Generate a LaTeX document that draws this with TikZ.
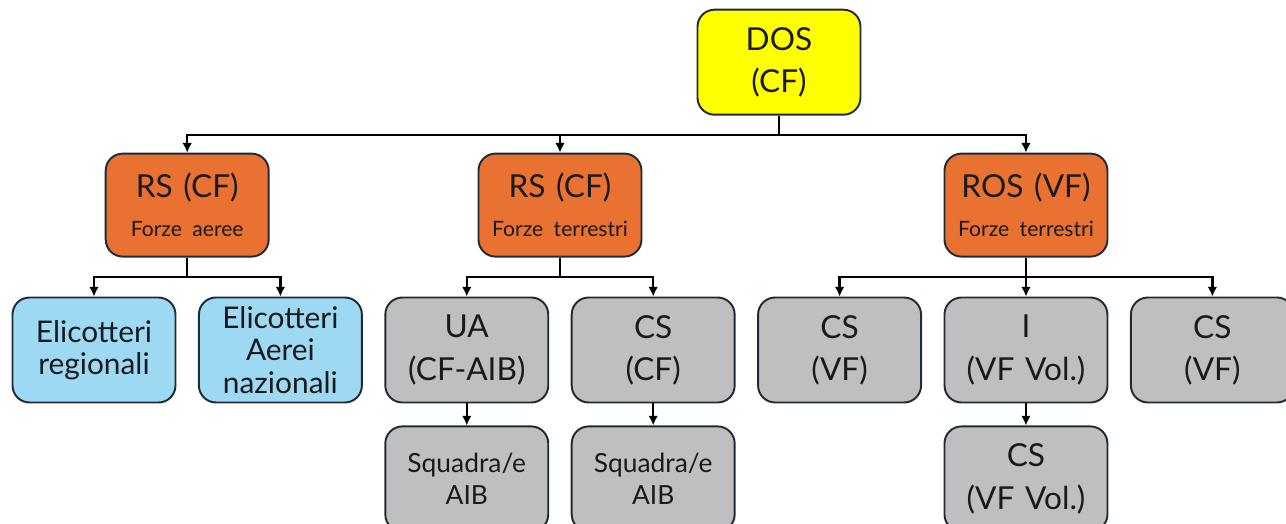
\documentclass[tikz,border=0pt]{standalone}
\usepackage{fontspec}
\setmainfont{Lato}[WordSpace=0.55]
\usepackage{xcolor}
\usepackage{tikz}
\usetikzlibrary{arrows,arrows.meta,positioning,calc}
\definecolor{giallo}{HTML}{FFFF00}
\definecolor{arancio}{HTML}{E97132}
\definecolor{azzurro}{HTML}{9DD9F3}
\definecolor{grigio}{HTML}{BFBFBF}
\definecolor{bordo}{HTML}{1E2B37}
\definecolor{testo}{HTML}{1A1A1A}

\begin{document}
\begin{tikzpicture}[
  x=0.02cm, y=0.02cm,
  box/.style={draw=bordo, line width=1.1pt, rounded corners=3.4mm, align=center, text width=3cm, inner sep=1.3mm, minimum height=2.1cm, text=testo},
  dos/.style={box, fill=giallo, font=\fontsize{18}{24}\selectfont},
  capo/.style={box, fill=arancio, minimum height=2.06cm, font=\fontsize{18}{22}\selectfont},
  eli/.style={box, fill=azzurro, font=\fontsize{17}{18.5}\selectfont},
  unita/.style={box, fill=grigio, font=\fontsize{18}{24}\selectfont},
  squadra/.style={box, fill=grigio, font=\fontsize{15}{18}\selectfont},
  link/.style={-{Latex[length=5.5pt,width=5.5pt]}, line width=1.4pt, draw=black},
  node distance=7.8mm and 4.3mm
]
\useasboundingbox (0,0) rectangle (1286,524);
\clip (0,0) rectangle (1286,524);
\node[eli] (elireg) at (94,174) {Elicotteri\\regionali};
\node[eli, right=of elireg] (elinaz) {Elicotteri\\Aerei\\nazionali};
\node[unita, right=of elinaz] (ua) {UA\\(CF-AIB)};
\node[unita, right=of ua] (cscf) {CS\\(CF)};
\node[unita, right=of cscf] (csvf) {CS\\(VF)};
\node[unita, right=of csvf] (ivol) {I\\(VF Vol.)};
\node[unita, right=of ivol] (csvfb) {CS\\(VF)};
\node[squadra, below=4.4mm of ua] (squa) {Squadra/e\\AIB};
\node[squadra, below=4.4mm of cscf] (sqcs) {Squadra/e\\AIB};
\node[unita, below=4.4mm of ivol] (csvol) {CS\\(VF Vol.)};
% responsabili di settore
\coordinate (m1) at ($(elireg.north)!0.5!(elinaz.north)$);
\coordinate (m2) at ($(ua.north)!0.5!(cscf.north)$);
\node[capo, above=of m1] (rsaer) {RS (CF)\\{\fontsize{12}{12}\selectfont Forze aeree}};
\node[capo, above=of m2] (rster) {RS (CF)\\{\fontsize{12}{12}\selectfont Forze terrestri}};
\node[capo, above=of ivol] (ros) {ROS (VF)\\{\fontsize{12}{12}\selectfont Forze terrestri}};
\coordinate (m0) at ($(rster.north)+(219,0)$);
\node[dos, above=7.4mm of m0] (dos) {DOS\\(CF)};
% collegamenti
\foreach \figlio in {rsaer,rster,ros}
  \draw[link] (dos.south) -- ++(0,-19.5) -| (\figlio.north);
\foreach \figlio in {elireg,elinaz}
  \draw[link] (rsaer.south) -- ++(0,-19.5) -| (\figlio.north);
\foreach \figlio in {ua,cscf}
  \draw[link] (rster.south) -- ++(0,-19.5) -| (\figlio.north);
\foreach \figlio in {csvf,ivol,csvfb}
  \draw[link] (ros.south) -- ++(0,-19.5) -| (\figlio.north);
\draw[link] (ua) -- (squa);
\draw[link] (cscf) -- (sqcs);
\draw[link] (ivol) -- (csvol);
\end{tikzpicture}
\end{document}
